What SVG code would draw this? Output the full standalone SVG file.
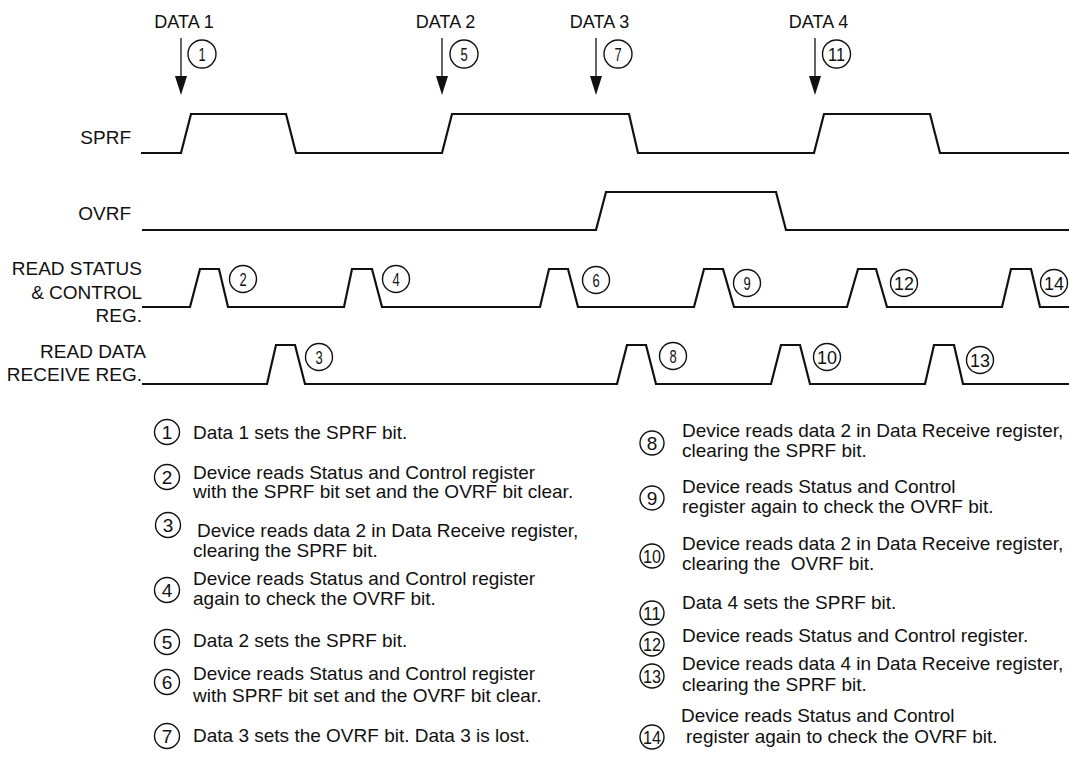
<svg xmlns="http://www.w3.org/2000/svg" width="1069" height="766" viewBox="0 0 1069 766">
<defs>
<style>
text{font-family:"Liberation Sans",Arial,sans-serif;fill:#111}
.lbl{font-size:19px}
.dl{font-size:18px;text-anchor:middle}
.lg{font-size:19px}
.wave{fill:none;stroke:#111;stroke-width:2.2;stroke-linejoin:miter}
.cc{fill:none;stroke:#111;stroke-width:1.4}
.cn{font-size:18px;text-anchor:middle}
.ln{font-size:19px;text-anchor:middle}
.ln2{font-size:18px;text-anchor:middle}
.arr{stroke:#111;stroke-width:1.3;fill:none}
.ah{fill:#111}
</style>
</defs>
<rect width="1069" height="766" fill="#fff"/>

<g id="labels">
<text class="dl" x="184" y="28">DATA 1</text>
<text class="dl" x="445.5" y="28">DATA 2</text>
<text class="dl" x="599.5" y="28">DATA 3</text>
<text class="dl" x="818.5" y="28">DATA 4</text>
<text class="lbl" x="131" y="144" text-anchor="end">SPRF</text>
<text class="lbl" x="131" y="220" text-anchor="end">OVRF</text>
<text class="lbl" x="142" y="275" text-anchor="end">READ STATUS</text>
<text class="lbl" x="142" y="299" text-anchor="end">&amp; CONTROL</text>
<text class="lbl" x="142" y="322" text-anchor="end">REG.</text>
<text class="lbl" x="146" y="358" text-anchor="end">READ DATA</text>
<text class="lbl" x="142" y="381" text-anchor="end">RECEIVE REG.</text>
</g>

<g id="connectors">
<line class="arr" x1="181" y1="38" x2="181" y2="77"/><polygon class="ah" points="175,76 187,76 181,95"/>
<line class="arr" x1="442" y1="38" x2="442" y2="77"/><polygon class="ah" points="436,76 448,76 442,95"/>
<line class="arr" x1="596" y1="38" x2="596" y2="77"/><polygon class="ah" points="590,76 602,76 596,95"/>
<line class="arr" x1="815" y1="38" x2="815" y2="77"/><polygon class="ah" points="809,76 821,76 815,95"/>
</g>

<g id="sig-sprf"><path class="wave" d="M141,153 H181 L191,114 H286 L296,153 H442 L452,114 H629 L638,153 H814 L824,114 H930 L940,153 H1069"/></g>
<g id="sig-ovrf"><path class="wave" d="M142,230 H596 L606,192 H776 L786,230 H1069"/></g>
<g id="sig-rsc"><path class="wave" d="M142,307 H190 L200,269 H219 L228,307 H344 L352,269 H372 L382,307 H540 L549,269 H568 L578,307 H694 L704,269 H723 L734,307 H847 L858,269 H876 L887,307 H1002 L1011,269 H1031 L1040,307 H1069"/></g>
<g id="sig-rdr"><path class="wave" d="M142,384 H267 L276,345 H295 L305,384 H617 L627,345 H646 L656,384 H771 L781,345 H800 L810,384 H925 L934,345 H954 L963,384 H1069"/></g>

<g id="callouts">
<g id="c1"><circle class="cc" cx="202" cy="54" r="14"/><text class="cn" transform="translate(202,60.5) scale(0.72,1)">1</text></g>
<g id="c5"><circle class="cc" cx="464" cy="54" r="14"/><text class="cn" transform="translate(464,60.5) scale(0.72,1)">5</text></g>
<g id="c7"><circle class="cc" cx="618" cy="54" r="14"/><text class="cn" transform="translate(618,60.5) scale(0.72,1)">7</text></g>
<g id="c11"><circle class="cc" cx="836.5" cy="54" r="14"/><text class="cn" x="836.5" y="60.5" textLength="17" lengthAdjust="spacingAndGlyphs">11</text></g>
<g id="c2"><circle class="cc" cx="243" cy="279" r="13.5"/><text class="cn" transform="translate(243,285.5) scale(0.72,1)">2</text></g>
<g id="c4"><circle class="cc" cx="396" cy="279" r="13.5"/><text class="cn" transform="translate(396,285.5) scale(0.72,1)">4</text></g>
<g id="c6"><circle class="cc" cx="596" cy="280" r="13.5"/><text class="cn" transform="translate(596,286.5) scale(0.72,1)">6</text></g>
<g id="c9"><circle class="cc" cx="747" cy="283" r="13.5"/><text class="cn" transform="translate(747,289.5) scale(0.72,1)">9</text></g>
<g id="c12"><circle class="cc" cx="904" cy="283" r="13.5"/><text class="cn" x="904" y="289.5" textLength="20" lengthAdjust="spacingAndGlyphs">12</text></g>
<g id="c14"><circle class="cc" cx="1054" cy="283" r="13.5"/><text class="cn" x="1054" y="289.5" textLength="20" lengthAdjust="spacingAndGlyphs">14</text></g>
<g id="c3"><circle class="cc" cx="319" cy="357" r="13.5"/><text class="cn" transform="translate(319,363.5) scale(0.72,1)">3</text></g>
<g id="c8"><circle class="cc" cx="673" cy="356" r="13.5"/><text class="cn" transform="translate(673,362.5) scale(0.72,1)">8</text></g>
<g id="c10"><circle class="cc" cx="827" cy="357" r="13.5"/><text class="cn" x="827" y="363.5" textLength="20" lengthAdjust="spacingAndGlyphs">10</text></g>
<g id="c13"><circle class="cc" cx="980" cy="360" r="13.5"/><text class="cn" x="980" y="366.5" textLength="20" lengthAdjust="spacingAndGlyphs">13</text></g>
</g>

<g id="legend">
<g id="l1"><circle class="cc" cx="167" cy="432" r="12.5"/><text class="ln" x="167" y="439">1</text><text class="lg" x="193" y="439">Data 1 sets the SPRF bit.</text></g>
<g id="l2"><circle class="cc" cx="167" cy="477" r="12.5"/><text class="ln" x="167" y="484">2</text><text class="lg" x="193" y="479">Device reads Status and Control register</text><text class="lg" x="193" y="498">with the SPRF bit set and the OVRF bit clear.</text></g>
<g id="l3"><circle class="cc" cx="168" cy="525" r="12.5"/><text class="ln" x="168" y="532">3</text><text class="lg" x="197" y="537">Device reads data 2 in Data Receive register,</text><text class="lg" x="193" y="557">clearing the SPRF bit.</text></g>
<g id="l4"><circle class="cc" cx="167" cy="590" r="12.5"/><text class="ln" x="167" y="597">4</text><text class="lg" x="193" y="585">Device reads Status and Control register</text><text class="lg" x="193" y="605">again to check the OVRF bit.</text></g>
<g id="l5"><circle class="cc" cx="167" cy="642" r="12.5"/><text class="ln" x="167" y="649">5</text><text class="lg" x="193" y="647">Data 2 sets the SPRF bit.</text></g>
<g id="l6"><circle class="cc" cx="167" cy="682" r="12.5"/><text class="ln" x="167" y="689">6</text><text class="lg" x="193" y="680">Device reads Status and Control register</text><text class="lg" x="193" y="702">with SPRF bit set and the OVRF bit clear.</text></g>
<g id="l7"><circle class="cc" cx="167" cy="736" r="12.5"/><text class="ln" x="167" y="743">7</text><text class="lg" x="193" y="742">Data 3 sets the OVRF bit. Data 3 is lost.</text></g>

<g id="l8"><circle class="cc" cx="652" cy="443" r="12"/><text class="ln" x="652" y="450">8</text><text class="lg" x="682" y="437">Device reads data 2 in Data Receive register,</text><text class="lg" x="682" y="457">clearing the SPRF bit.</text></g>
<g id="l9"><circle class="cc" cx="652" cy="498" r="12"/><text class="ln" x="652" y="505">9</text><text class="lg" x="682" y="493">Device reads Status and Control</text><text class="lg" x="682" y="513">register again to check the OVRF bit.</text></g>
<g id="l10"><circle class="cc" cx="652" cy="556" r="12"/><text class="ln2" x="652" y="562.5" textLength="18" lengthAdjust="spacingAndGlyphs">10</text><text class="lg" x="682" y="550">Device reads data 2 in Data Receive register,</text><text class="lg" x="682" y="570" xml:space="preserve">clearing the  OVRF bit.</text></g>
<g id="l11"><circle class="cc" cx="652" cy="613" r="12"/><text class="ln2" x="652" y="619.5" textLength="18" lengthAdjust="spacingAndGlyphs">11</text><text class="lg" x="682" y="609">Data 4 sets the SPRF bit.</text></g>
<g id="l12"><circle class="cc" cx="652" cy="644" r="12"/><text class="ln2" x="652" y="650.5" textLength="18" lengthAdjust="spacingAndGlyphs">12</text><text class="lg" x="682" y="642">Device reads Status and Control register.</text></g>
<g id="l13"><circle class="cc" cx="652" cy="676" r="12"/><text class="ln2" x="652" y="682.5" textLength="18" lengthAdjust="spacingAndGlyphs">13</text><text class="lg" x="682" y="670">Device reads data 4 in Data Receive register,</text><text class="lg" x="682" y="691">clearing the SPRF bit.</text></g>
<g id="l14"><circle class="cc" cx="652" cy="737" r="12"/><text class="ln2" x="652" y="743.5" textLength="18" lengthAdjust="spacingAndGlyphs">14</text><text class="lg" x="681" y="722">Device reads Status and Control</text><text class="lg" x="686" y="743">register again to check the OVRF bit.</text></g>
</g>
</svg>
